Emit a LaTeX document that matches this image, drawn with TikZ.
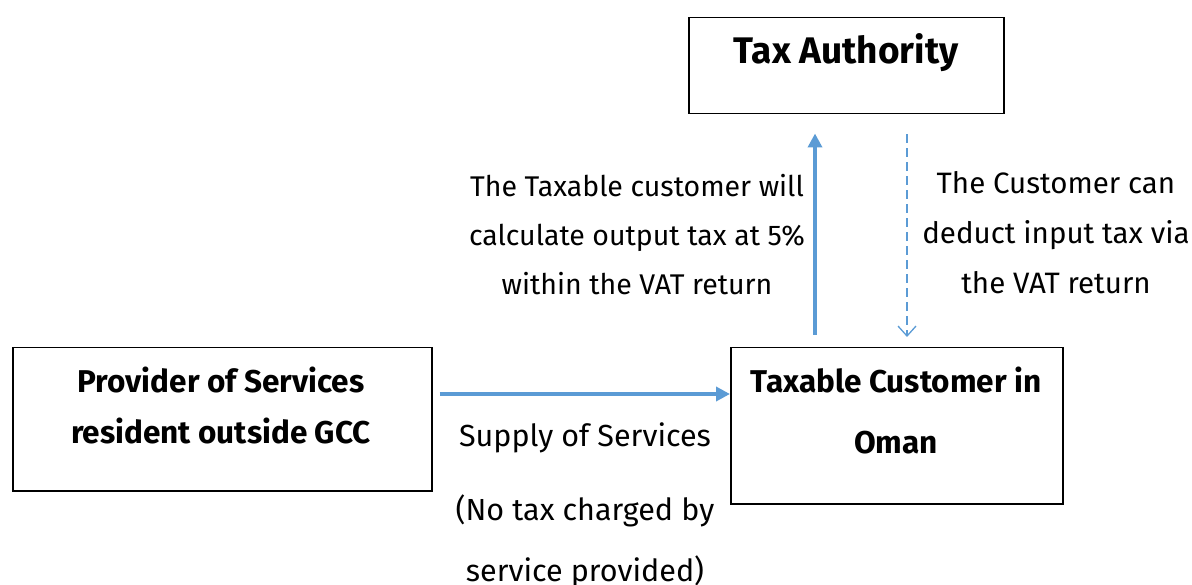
\documentclass[tikz,border=0pt]{standalone}
\usepackage{fontspec}
\setmainfont{Fira Sans}
\usetikzlibrary{arrows.meta}
\definecolor{arrowblue}{HTML}{5B9BD5}
\tikzset{
  box/.style={draw=black, line width=1.5pt, anchor=north west, inner sep=0pt},
  txt/.style={align=center, inner sep=0pt, font=\fontsize{30}{49}\selectfont},
  btxt/.style={align=center, inner sep=0pt, font=\fontsize{31.5}{51}\selectfont\bfseries},
  solidarrow/.style={draw=arrowblue, line width=3.5pt, -{Triangle[length=14pt,width=14pt]}},
  dasharrow/.style={draw=arrowblue, line width=1.3pt, dashed, dash pattern=on 9pt off 5pt, -{Straight Barb[length=10pt,width=18pt,line width=1.3pt]}}
}
\begin{document}
\begin{tikzpicture}[x=1pt,y=-1pt]
\useasboundingbox (0,0) rectangle (1192,585);
% boxes
\node[box, minimum width=315pt, minimum height=96pt] (tax) at (688,17) {};
\node[box, minimum width=419pt, minimum height=143pt] (prov) at (12,347) {};
\node[box, minimum width=332pt, minimum height=156pt] (cust) at (730,347) {};
% box texts
\node[btxt, font=\fontsize{37}{51}\selectfont\bfseries] (taxt) at (846,53) {Tax Authority};
\node[btxt] (provt) at (221,405) {Provider of Services\\resident outside GCC};
\node[btxt, font=\fontsize{31.5}{61}\selectfont\bfseries] (custt) at (896,410) {Taxable Customer in\\Oman};
% labels
\node[txt, font=\fontsize{28.5}{49}\selectfont] (lab1) at (637,235) {The Taxable customer will\\calculate output tax at 5\%\\within the VAT return};
\node[txt, font=\fontsize{29.5}{50}\selectfont] (lab2) at (1056,233) {The Customer can\\deduct input tax via\\the VAT return};
\node[txt, font=\fontsize{30.5}{49}\selectfont] (lab3) at (585,438) {Supply of Services};
\node[txt, font=\fontsize{30.5}{61}\selectfont] (lab4) at (585,541) {(No tax charged by\\service provided)};
% connectors
\draw[solidarrow, shorten <=7pt] (prov.east |- 0,394) -- (cust.west |- 0,394);
\draw[solidarrow, shorten <=12pt, shorten >=19pt] ([xshift=85pt]cust.north west) -- ([xshift=127pt]tax.south west);
\draw[dasharrow, shorten <=20pt, shorten >=10pt] ([xshift=219pt]tax.south west) -- ([xshift=177pt]cust.north west);
\end{tikzpicture}
\end{document}
